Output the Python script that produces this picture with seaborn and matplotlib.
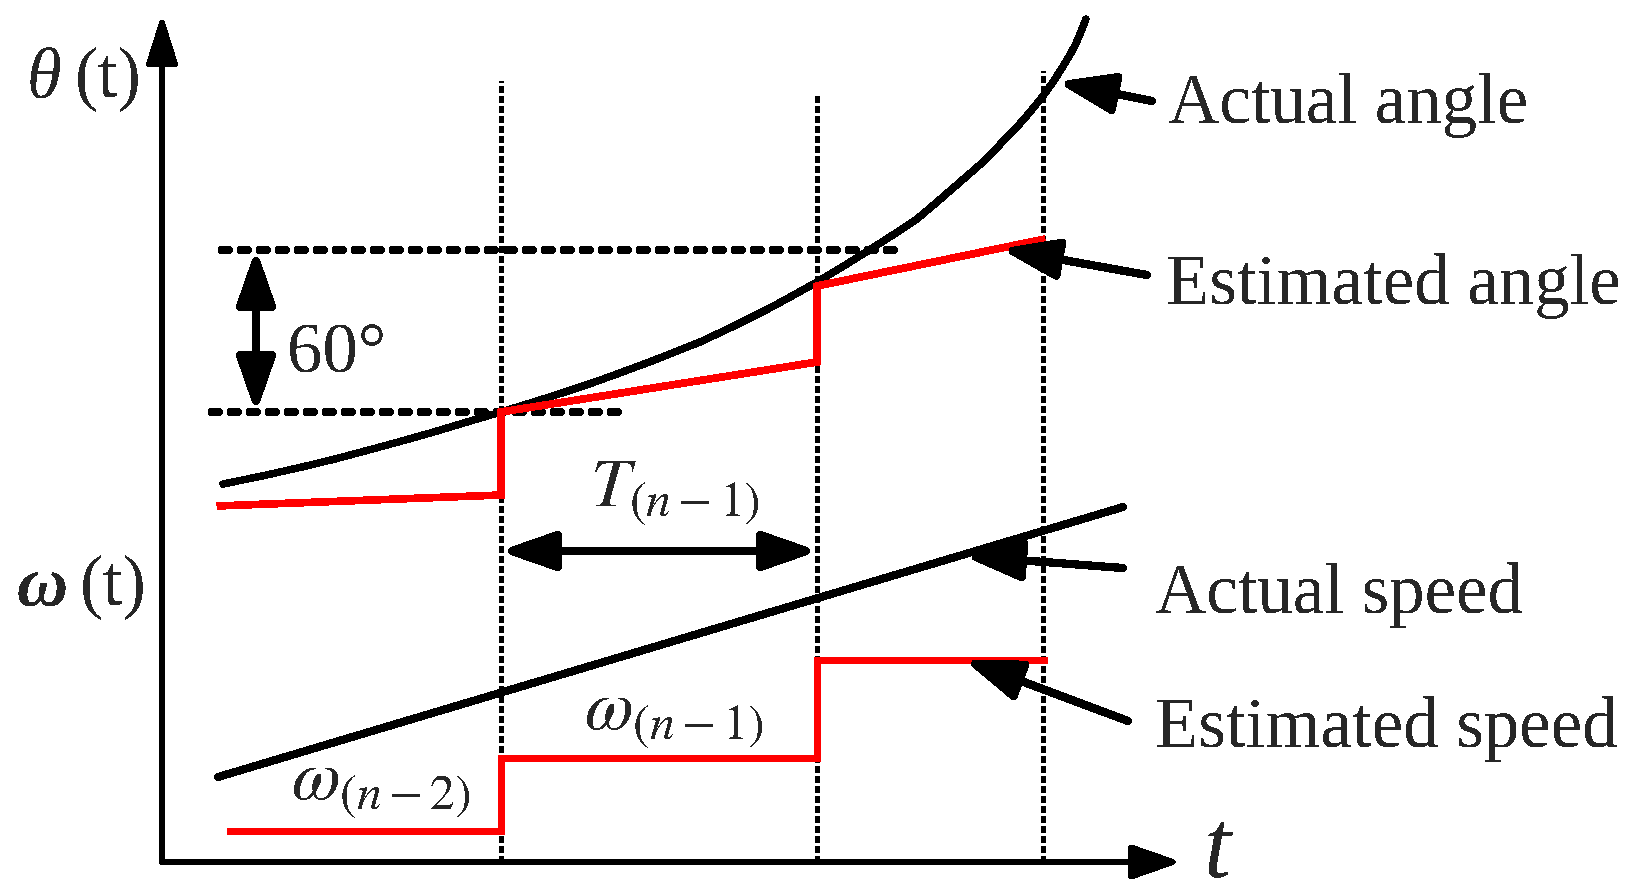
import numpy as np
import pandas as pd
import matplotlib
matplotlib.use("Agg")
import matplotlib.pyplot as plt
import seaborn as sns

# drawing units: t = 0 on the vertical axis, value = 0 on the time axis
sample_t = [339, 655, 881]          # sampling instants (dotted verticals)
sample_top = [781, 769, 791]

actual_angle_t = [61, 100, 140, 171, 205, 238, 270, 305, 339, 370, 400, 430,
                  455, 490, 538, 570, 605, 630, 655, 680, 705, 730, 755, 775,
                  790, 805, 821, 838, 855, 868, 881, 891, 900, 907, 913, 918, 924]
actual_angle_v = [378, 386, 395, 402.5, 411.5, 420.5, 429.5, 440, 450, 459.5, 469, 479,
                  488, 501, 520, 535, 552.5, 566, 580, 595, 610.5, 626.5, 643, 660,
                  673, 686, 700, 717.5, 735, 750, 766, 780, 794, 805.5, 816.5, 828, 843]

est_angle_t = [55, 339, 339, 655, 655, 883]
est_angle_v = [356, 367, 450, 500, 576, 623]

actual_speed_t = [56, 961]
actual_speed_v = [85, 355]

est_speed_t = [65, 339, 339, 655, 655, 885]
est_speed_v = [31, 31, 104, 104, 202, 202]

ref_level = [612, 450]              # two angle levels 60 deg apart
ref_start = [60, 50]
ref_end = [734, 466]

sns.set_theme(style="white")
plt.rcParams["font.family"] = ["Liberation Serif", "DejaVu Serif"]
plt.rcParams["mathtext.fontset"] = "stix"
plt.rcParams["lines.antialiased"] = False
plt.rcParams["patch.antialiased"] = False
plt.rcParams["text.antialiased"] = False

fig = plt.figure(figsize=(16.41, 8.95), dpi=100)
ax = fig.add_axes([0, 0, 1, 1])
ax.set_xlim(-162, 1479)
ax.set_ylim(-32, 863)
ax.axis("off")

FS = 51


def arrow(tip, tail, lw=5.2, hl=34, hw=12, style="-|>"):
    ax.annotate("", xy=tip, xytext=tail,
                arrowprops=dict(arrowstyle=f"{style},head_length={hl},head_width={hw}",
                                lw=lw, color="black", mutation_scale=1,
                                shrinkA=0, shrinkB=0, capstyle="round"))


# axes
arrow((0, 847), (0, 0), lw=3.4, hl=30, hw=9.5)
arrow((1018, 0), (0, 0), lw=3.4, hl=30, hw=10.5)

# sampling instants
ax.vlines(sample_t, 0, sample_top, colors="black", lw=3.4,
          linestyles=(0, (1.4, 0.7)), antialiased=False)

# 60 degree reference levels
for lv, a, b in zip(ref_level, ref_start, ref_end):
    ax.plot([a, b], [lv, lv], color="black", lw=5.4,
            dashes=(0.8, 1.6), dash_capstyle="round")

# curves
sns.lineplot(x=actual_angle_t, y=actual_angle_v, ax=ax, color="black", lw=4.6,
             sort=False, estimator=None, solid_capstyle="round")
sns.lineplot(x=est_angle_t, y=est_angle_v, ax=ax, color="#ff0000", lw=4.8,
             sort=False, estimator=None, solid_joinstyle="miter",
             solid_capstyle="butt")
sns.lineplot(x=actual_speed_t, y=actual_speed_v, ax=ax, color="black", lw=5.0,
             sort=False, estimator=None, solid_capstyle="round")
sns.lineplot(x=est_speed_t, y=est_speed_v, ax=ax, color="#ff0000", lw=4.8,
             sort=False, estimator=None, solid_joinstyle="miter",
             solid_capstyle="butt")

# dimension arrows
arrow((94, 612), (94, 450), style="<|-|>", hl=33, hw=11.5)
arrow((339, 311), (655, 311), style="<|-|>", hl=33, hw=11.5)
ax.text(125, 491, "60°", fontsize=FS, ha="left", va="baseline")
ax.text(513, 356, r"$T_{(n-1)}$", fontsize=FS, ha="center", va="baseline")
ax.text(512, 133, r"$\omega_{(n-1)}$", fontsize=FS, ha="center", va="baseline")
ax.text(219, 63, r"$\omega_{(n-2)}$", fontsize=FS, ha="center", va="baseline")

# callouts
arrow((896, 780), (990, 761))
arrow((840, 613), (985, 587))
arrow((803, 306), (961, 294))
arrow((803, 202), (966, 141))
ax.text(1006, 740, "Actual angle", fontsize=FS, ha="left", va="baseline")
ax.text(1004, 559, "Estimated angle", fontsize=FS, ha="left", va="baseline")
ax.text(993, 250, "Actual speed", fontsize=FS, ha="left", va="baseline")
ax.text(993, 116, "Estimated speed", fontsize=FS, ha="left", va="baseline")

# axis labels
ax.text(-135, 766, "θ", fontsize=FS, style="italic", ha="left", va="baseline")
ax.text(-87, 766, "(t)", fontsize=FS, ha="left", va="baseline")
ax.text(-145, 258, "ω", fontsize=FS, style="italic", weight="bold",
        ha="left", va="baseline")
ax.text(-82, 258, "(t)", fontsize=FS, ha="left", va="baseline")
ax.text(1042, -14, "t", fontsize=70, style="italic", ha="left", va="baseline")

fig.savefig("out.png", dpi=100)
